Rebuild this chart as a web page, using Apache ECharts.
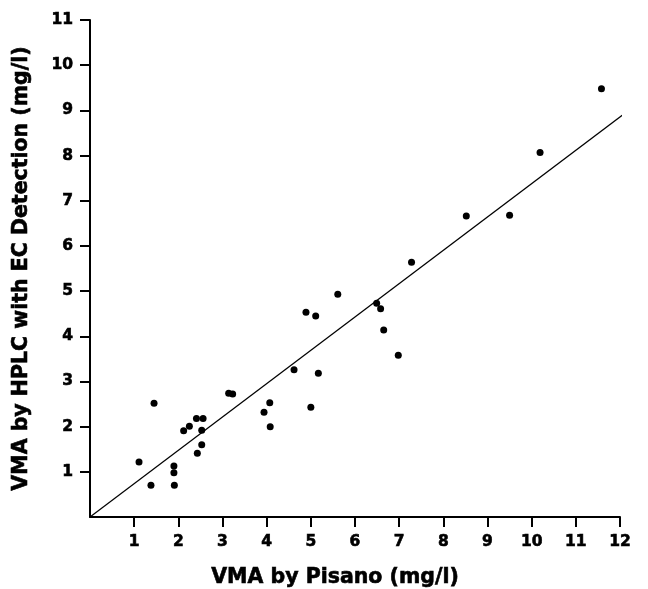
<!DOCTYPE html>
<html>
<head>
<meta charset="utf-8">
<script src="https://cdn.jsdelivr.net/npm/echarts@6/dist/echarts.min.js"></script>
<style>html,body{margin:0;padding:0;background:#fff}#c{width:648px;height:589px}</style>
</head>
<body>
<div id="c"></div>
<script>
const pisanoX = [1.11,1.38,1.45,1.90,1.90,1.91,2.12,2.25,2.41,2.56,2.53,2.53,2.43,3.14,3.23,3.94,4.07,4.08,4.62,5.00,5.17,4.89,5.11,5.61,6.49,6.58,6.65,6.98,7.28,8.52,9.50,10.19,11.58];
const hplcY   = [1.22,0.70,2.52,1.13,0.98,0.70,1.91,2.01,2.18,2.18,1.92,1.60,1.41,2.74,2.72,2.32,2.53,2.00,3.26,2.43,3.18,4.53,4.45,4.93,4.73,4.61,4.14,3.58,5.64,6.66,6.68,8.07,9.48];
const fitX = [0, 12.05];
const fitY = [0, 8.89];
const xTicks = [1,2,3,4,5,6,7,8,9,10,11,12];
const yTicks = [1,2,3,4,5,6,7,8,9,10,11];

const FONT = '"DejaVu Sans", "Liberation Sans", Arial, sans-serif';
const txt = (size)=>({fontFamily:FONT,fontWeight:'bold',fontSize:size,color:'#000',
  textBorderColor:'#000',textBorderWidth:0.6});
const chart = echarts.init(document.getElementById('c'), null, {renderer:'canvas'});
chart.setOption({
  animation:false,
  backgroundColor:'#fff',
  grid:{left:90,right:28,top:20,bottom:72,containLabel:false,outerBoundsMode:'none'},
  xAxis:{
    type:'value',min:0,max:12,interval:1,
    name:'VMA by Pisano (mg/l)',nameLocation:'middle',nameGap:50,
    nameTextStyle:Object.assign(txt(20.5),{padding:[0,40,0,0]}),
    axisLine:{lineStyle:{color:'#000',width:2}},
    axisTick:{length:10,lineStyle:{color:'#000',width:2},customValues:xTicks},
    axisLabel:Object.assign(txt(15.5),{margin:17,customValues:xTicks}),
    splitLine:{show:false}
  },
  yAxis:{
    type:'value',min:0,max:11,interval:1,
    name:'VMA by HPLC with EC Detection (mg/l)',nameLocation:'middle',nameGap:58,
    nameTextStyle:Object.assign(txt(20.5),{padding:[0,0,0,0]}),
    axisLine:{lineStyle:{color:'#000',width:2}},
    axisTick:{length:10,lineStyle:{color:'#000',width:2},customValues:yTicks},
    axisLabel:Object.assign(txt(15.5),{margin:17,customValues:yTicks}),
    splitLine:{show:false}
  },
  series:[
    {type:'line',data:fitX.map((x,i)=>[x,fitY[i]]),symbol:'none',
      lineStyle:{color:'#000',width:1.2},z:2},
    {type:'scatter',data:pisanoX.map((x,i)=>[x,hplcY[i]]),symbol:'circle',symbolSize:7,
      itemStyle:{color:'#000',opacity:1},z:3}
  ]
});
</script>
</body>
</html>
